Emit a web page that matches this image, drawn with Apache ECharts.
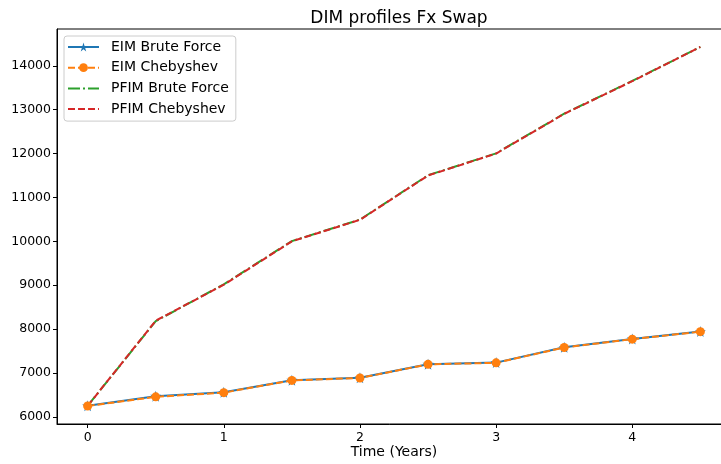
<!DOCTYPE html>
<html>
<head>
<meta charset="utf-8">
<script src="https://cdn.jsdelivr.net/npm/echarts@6/dist/echarts.min.js"></script>
<style>
html,body{margin:0;padding:0;background:#fff;}
#chart{width:721px;height:464px;}
</style>
</head>
<body>
<div id="chart"></div>
<script>
// ---- data ----
var times = [0, 0.5, 1, 1.5, 2, 2.5, 3, 3.5, 4, 4.5];
var eimBruteForce = [6250, 6470, 6560, 6835, 6890, 7200, 7235, 7585, 7775, 7945];
var eimChebyshev  = [6245, 6455, 6550, 6830, 6885, 7195, 7230, 7580, 7770, 7940];
var pfimBruteForce = [6250, 8180, 9020, 10005, 10495, 11505, 12005, 12910, 13655, 14430];
var pfimChebyshev  = [6250, 8190, 9010, 10000, 10490, 11500, 12000, 12905, 13650, 14430];
var xTicks = [0, 1, 2, 3, 4];
var yTicks = [6000, 7000, 8000, 9000, 10000, 11000, 12000, 13000, 14000];
var seriesNames = ['EIM Brute Force', 'EIM Chebyshev', 'PFIM Brute Force', 'PFIM Chebyshev'];
var titleText = 'DIM profiles Fx Swap';
var xName = 'Time (Years)';

function pairs(ys) { return times.map(function (t, i) { return [t, ys[i]]; }); }

var all = eimBruteForce.concat(eimChebyshev, pfimBruteForce, pfimChebyshev);
var dMin = Math.min.apply(null, all), dMax = Math.max.apply(null, all);
var yPad = (dMax - dMin) * 0.05;
var xPad = (times[times.length - 1] - times[0]) * 0.05;

var FONT = 'DejaVu Sans';
var LW = 2;
var STAR = 'path://M50,0 L61.2,34.5 L97.6,34.5 L68.2,55.9 L79.4,90.5 L50,69.1 L20.6,90.5 L31.8,55.9 L2.4,34.5 L38.8,34.5 Z';
var hiddenMarker = {color: 'rgba(0,0,0,0)', opacity: 0, borderWidth: 0};

var chart = echarts.init(document.getElementById('chart'), null, {renderer: 'canvas'});
chart.setOption({
  animation: false,
  backgroundColor: '#ffffff',
  title: {
    text: titleText,
    left: 394,
    textAlign: 'center',
    top: 5,
    textStyle: {fontFamily: FONT, fontSize: 17, fontWeight: 'normal', color: '#000'}
  },
  grid: {
    left: 57, top: 29, width: 674, height: 395,
    outerBoundsMode: 'none',
    containLabel: false,
    show: true, borderColor: '#000', borderWidth: 1, backgroundColor: 'transparent'
  },
  legend: {
    left: 64, top: 36,
    orient: 'vertical',
    itemWidth: 31, itemHeight: 11, itemGap: 6.7,
    padding: [4, 7, 5, 3],
    backgroundColor: 'rgba(255,255,255,0.8)',
    borderColor: '#cccccc', borderWidth: 1, borderRadius: 3,
    textStyle: {fontFamily: FONT, fontSize: 14, color: '#000', lineHeight: 14, padding: [0, 0, 0, 7]},
    data: [
      {name: seriesNames[0]},
      {name: seriesNames[1]},
      {name: seriesNames[2], itemStyle: hiddenMarker},
      {name: seriesNames[3], itemStyle: hiddenMarker}
    ]
  },
  xAxis: {
    type: 'value',
    min: times[0] - xPad, max: times[times.length - 1] + xPad,
    name: xName, nameLocation: 'middle', nameGap: 21, nameMoveOverlap: false,
    nameTextStyle: {fontFamily: FONT, fontSize: 14, color: '#000'},
    axisLine: {show: true, onZero: false, lineStyle: {color: '#000', width: 1}},
    axisTick: {show: true, length: 4, lineStyle: {color: '#000', width: 1}, customValues: xTicks},
    axisLabel: {fontFamily: FONT, fontSize: 12.5, color: '#000', margin: 7, customValues: xTicks,
      formatter: function (v) { return String(v); }},
    splitLine: {show: false}
  },
  yAxis: {
    type: 'value',
    min: dMin - yPad, max: dMax + yPad,
    axisLine: {show: true, onZero: false, lineStyle: {color: '#000', width: 1}},
    axisTick: {show: true, length: 4, lineStyle: {color: '#000', width: 1}, customValues: yTicks},
    axisLabel: {fontFamily: FONT, fontSize: 12.5, color: '#000', margin: 6, customValues: yTicks,
      formatter: function (v) { return String(v); }},
    splitLine: {show: false}
  },
  series: [
    {
      name: seriesNames[0], type: 'line', data: pairs(eimBruteForce),
      symbol: STAR, symbolSize: 11, showSymbol: true,
      itemStyle: {color: '#1f77b4'},
      lineStyle: {color: '#1f77b4', width: LW, type: 'solid'}
    },
    {
      name: seriesNames[1], type: 'line', data: pairs(eimChebyshev),
      symbol: 'circle', symbolSize: 9, showSymbol: true,
      itemStyle: {color: '#ff7f0e'},
      lineStyle: {color: '#ff7f0e', width: LW, type: [7, 3]}
    },
    {
      name: seriesNames[2], type: 'line', data: pairs(pfimBruteForce),
      symbol: 'none',
      itemStyle: {color: '#2ca02c'},
      lineStyle: {color: '#2ca02c', width: LW, type: [12, 3, 2, 3]}
    },
    {
      name: seriesNames[3], type: 'line', data: pairs(pfimChebyshev),
      symbol: 'none',
      itemStyle: {color: '#d62728'},
      lineStyle: {color: '#d62728', width: LW, type: [7, 3]}
    }
  ]
});
</script>
</body>
</html>
